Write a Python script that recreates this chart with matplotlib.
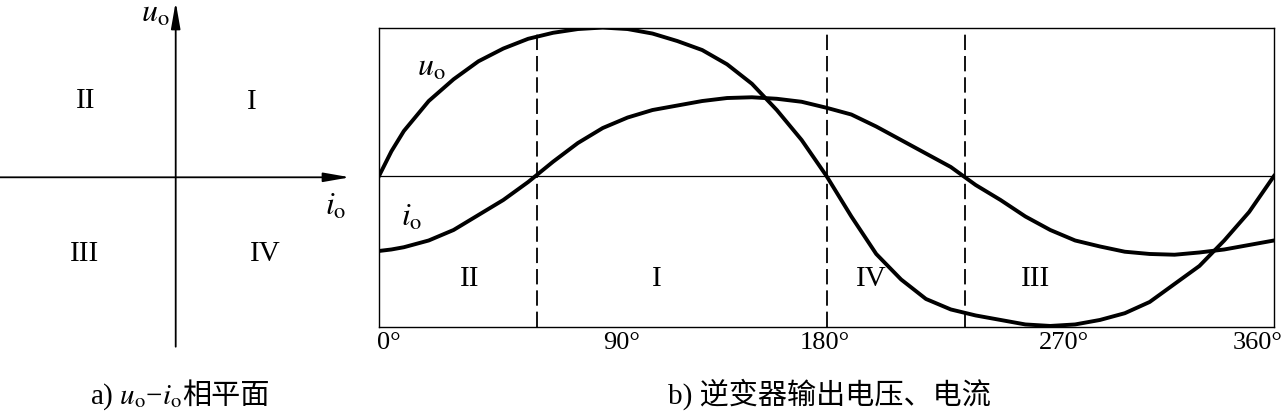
import matplotlib
matplotlib.use("Agg")
import matplotlib.pyplot as plt

plt.rcParams["font.family"] = ["Liberation Serif", "Noto Sans CJK SC", "DejaVu Sans"]
plt.rcParams["mathtext.fontset"] = "stix"

# phase angle, degrees
angle = [0, 5, 10, 20, 30, 40, 50, 60, 70, 80, 90,
         100, 110, 120, 130, 140, 150, 160, 170, 180, 190,
         200, 210, 220, 230, 240, 250, 260, 270, 280, 290,
         300, 310, 320, 330, 340, 350, 360]
# output voltage u_o (normalised)
u_o = [0.00, 0.165, 0.30, 0.50, 0.645, 0.765, 0.85, 0.915, 0.955, 0.98, 0.99,
       0.98, 0.95, 0.90, 0.84, 0.745, 0.615, 0.44, 0.24, 0.00, -0.27,
       -0.52, -0.69, -0.82, -0.89, -0.93, -0.96, -0.99, -1.00, -0.99, -0.96,
       -0.915, -0.84, -0.72, -0.60, -0.43, -0.24, 0.00]
# output current i_o (normalised)
i_o = [-0.50, -0.49, -0.475, -0.43, -0.36, -0.26, -0.16, -0.04, 0.095, 0.22, 0.32,
       0.39, 0.44, 0.47, 0.50, 0.52, 0.525, 0.515, 0.495, 0.455, 0.41,
       0.33, 0.24, 0.15, 0.06, -0.06, -0.16, -0.27, -0.36, -0.43, -0.47,
       -0.505, -0.52, -0.525, -0.51, -0.49, -0.46, -0.43]

# boundaries between operating quadrants
boundaries = [63.4, 180, 235.6]
region_labels = ["II", "I", "IV", "III"]
region_centres = [36.6, 111.8, 198.2, 264.2]

tick_values = [0, 90, 180, 270, 360]
tick_labels = ["0°", "90°", "180°", "270°", "360°"]

quadrant_labels = ["I", "II", "III", "IV"]

W, H = 1283, 413
fig = plt.figure(figsize=(W / 100, H / 100), dpi=100)

# ---- a) phase plane (units are pixels, origin at the crossing)
ax_a = fig.add_axes([0, 0, 360 / W, 1])
ax_a.set_xlim(-175.7, 184.3)
ax_a.set_ylim(-235.7, 177.3)
ax_a.set_axis_off()

arrow = dict(arrowstyle="-|>,head_length=1.6,head_width=0.28", lw=1.3,
             color="black", shrinkA=0, shrinkB=0)
ax_a.annotate("", xy=(0, 175.3), xytext=(0, -169.4), arrowprops=arrow)
ax_a.annotate("", xy=(174.3, 0), xytext=(-175.7, 0), arrowprops=arrow)

quad_pos = [(76.3, 75.3), (-89.7, 76.3), (-90.7, -76.7), (89.3, -76.7)]
for lab, (qx, qy) in zip(quadrant_labels, quad_pos):
    ax_a.text(qx, qy, lab, fontsize=21, ha="center", va="center")

ax_a.text(-20.7, 163, r"$u_{\mathrm{o}}$", fontsize=23, ha="center", va="center")
ax_a.text(160.3, -30, r"$i_{\mathrm{o}}$", fontsize=23, ha="center", va="center")

# ---- b) waveforms
ax = fig.add_axes([379 / W, (H - 327) / H, (1274 - 379) / W, (327 - 28) / H])
ax.plot(angle, u_o, color="black", lw=2.8, solid_joinstyle="round")
ax.plot(angle, i_o, color="black", lw=2.8, solid_joinstyle="round")
ax.axhline(0, color="black", lw=0.9)
for b in boundaries:
    ax.axvline(b, color="black", lw=1.3, linestyle=(0, (8.5, 3.3)))
ax.set_xlim(0, 360)
ax.set_ylim(-1.007, 0.987)
ax.set_xticks([])
ax.set_yticks([])
for s in ax.spines.values():
    s.set_linewidth(1.0)

for lab, xc in zip(region_labels, region_centres):
    ax.text(xc, -0.69, lab, fontsize=21, ha="center", va="center")

ax.text(21.1, 0.72, r"$u_{\mathrm{o}}$", fontsize=23, ha="center", va="center")
ax.text(13.2, -0.28, r"$i_{\mathrm{o}}$", fontsize=23, ha="center", va="center")

tick_ha = ["left", "left", "center", "center", "right"]
tick_dx = [-2, 0, -2, 14, 9]
for v, lab, ha, dx in zip(tick_values, tick_labels, tick_ha, tick_dx):
    ax.annotate(lab, xy=(v, 0), xycoords=ax.get_xaxis_transform(),
                xytext=(dx, -5), textcoords="offset pixels",
                fontsize=19, ha=ha, va="top")

# ---- captions
cap_y = (H - 404) / H
fig.text(829 / W, cap_y, "b) 逆变器输出电压、电流", fontsize=21,
         ha="center", va="baseline")

t1 = fig.text(0, cap_y, r"a) $u_{\mathrm{o}}$−$i_{\mathrm{o}}$", fontsize=21,
              ha="left", va="baseline")
t2 = fig.text(0, cap_y, "相平面", fontsize=21, ha="left", va="baseline",
              family=["Noto Sans CJK SC"])
r = fig.canvas.get_renderer()
w1 = t1.get_window_extent(r).width
w2 = t2.get_window_extent(r).width
left = 180 - (w1 + w2) / 2
t1.set_x(left / W)
t2.set_x((left + w1) / W)

fig.savefig("out.png", dpi=100)
